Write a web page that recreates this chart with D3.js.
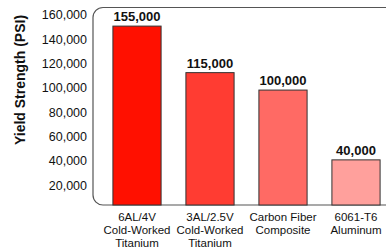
<!DOCTYPE html>
<html>
<head>
<meta charset="utf-8">
<script src="https://cdn.jsdelivr.net/npm/d3@7"></script>
<style>
  body { margin: 0; background: #fff; overflow: hidden; }
  text { font-family: "Liberation Sans", Arial, sans-serif; fill: #111; }
</style>
</head>
<body>
<script>
// data
var materials = ["6AL/4V\nCold-Worked\nTitanium", "3AL/2.5V\nCold-Worked\nTitanium",
                 "Carbon Fiber\nComposite", "6061-T6\nAluminum"];
var strength  = [155000, 115000, 100000, 40000];
var barColors = ["#ff1000", "#ff3c32", "#ff6a64", "#ffa09c"];
var yTicks    = [20000, 40000, 60000, 80000, 100000, 120000, 140000, 160000];

var W = 386, H = 247;

var svg = d3.select("body").append("svg")
    .attr("width", W)
    .attr("height", H);

// scales
var x = d3.scaleBand()
    .domain(d3.range(materials.length))
    .range([100.5, 392.5])
    .paddingInner(0.34)
    .paddingOuter(0.17);

// tick labels sit on a slightly different spacing than the bars in the original
var y = d3.scaleLinear()
    .domain([0, 160000])
    .range([209.3, 14.9]);

var yBar = d3.scaleLinear()
    .domain([0, 155000])
    .range([206.4, 26.1]);

// rounded frame (right side runs off the picture)
svg.append("rect")
    .attr("x", 93).attr("y", 7.5)
    .attr("width", 330).attr("height", 197.5)
    .attr("rx", 10).attr("ry", 10)
    .attr("fill", "none")
    .attr("stroke", "#555")
    .attr("stroke-width", 1.2);

// y axis: labels only
var yAxis = svg.append("g")
    .attr("transform", "translate(87,0)")
    .call(d3.axisLeft(y).tickValues(yTicks).tickSize(0).tickPadding(0)
        .tickFormat(d3.format(",")));
yAxis.select(".domain").remove();
yAxis.selectAll("text")
    .attr("font-family", "Liberation Sans, Arial, sans-serif")
    .attr("font-size", "12.5px")
    .attr("fill", "#111");

// y title
svg.append("text")
    .attr("transform", "translate(25,80) rotate(-90)")
    .attr("text-anchor", "middle")
    .attr("font-size", "14px")
    .attr("font-weight", "bold")
    .text("Yield Strength (PSI)");

// bars
svg.selectAll("rect.bar")
    .data(strength)
  .enter().append("rect")
    .attr("class", "bar")
    .attr("x", function(d, i) { return x(i); })
    .attr("y", function(d) { return yBar(d); })
    .attr("width", x.bandwidth())
    .attr("height", function(d) { return 205 - yBar(d); })
    .attr("fill", function(d, i) { return barColors[i]; })
    .attr("stroke", "#333")
    .attr("stroke-width", 1);

// value labels
svg.selectAll("text.val")
    .data(strength)
  .enter().append("text")
    .attr("class", "val")
    .attr("x", function(d, i) { return x(i) + x.bandwidth() / 2; })
    .attr("y", function(d) { return yBar(d) - 5; })
    .attr("text-anchor", "middle")
    .attr("font-size", "13px")
    .attr("font-weight", "bold")
    .text(d3.format(","));

// category labels
var cat = svg.selectAll("text.cat")
    .data(materials)
  .enter().append("text")
    .attr("class", "cat")
    .attr("text-anchor", "middle")
    .attr("font-size", "11.5px")
    .attr("transform", function(d, i) {
        return "translate(" + (x(i) + x.bandwidth() / 2) + ",221)";
    });
cat.selectAll("tspan")
    .data(function(d) { return d.split("\n"); })
  .enter().append("tspan")
    .attr("x", 0)
    .attr("y", function(d, i) { return i * 13; })
    .text(function(d) { return d; });
</script>
</body>
</html>
